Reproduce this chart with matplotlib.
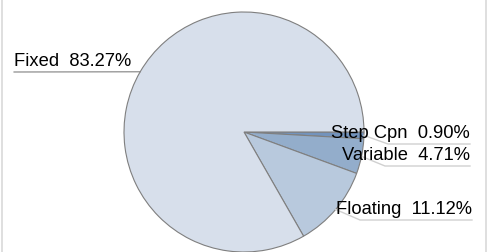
import matplotlib
matplotlib.use("Agg")
import matplotlib.pyplot as plt
import numpy as np
from matplotlib.lines import Line2D

plt.rcParams["font.family"] = ["Liberation Sans", "DejaVu Sans"]

# slices, clockwise from 3 o'clock
labels = ["Step Cpn", "Variable", "Floating", "Fixed"]
shares = [0.90, 4.71, 11.12, 83.27]
colors = ["#7393BC", "#93ADCB", "#B8C9DD", "#D7DFEB"]

W, H = 490, 252
cx, cy, R = 244, 132, 120  # pie centre / radius in pixels

fig = plt.figure(figsize=(W / 100, H / 100), dpi=100)
ax = fig.add_axes([0, 0, 1, 1])

wedges, _ = ax.pie(shares, colors=colors, startangle=0, counterclock=False,
                   radius=1, wedgeprops=dict(edgecolor="#7F7F7F", linewidth=0.8))
# pie() resets the limits, so set them afterwards
ax.set_aspect("auto")
ax.set_xlim(-cx / R, (W - cx) / R)
ax.set_ylim(-(H - cy) / R, cy / R)
ax.axis("off")


def px(x, y):
    return (x - cx) / R, (cy - y) / R


# label anchor (pixel): text end x, underline y, elbow x, align
label_pos = {
    "Step Cpn": (470, 144, 388, "right"),
    "Variable": (470, 166, 385, "right"),
    "Floating": (472, 220, 360, "right"),
    "Fixed": (14, 72, None, "left"),
}

for w, lab, val in zip(wedges, labels, shares):
    mid = np.deg2rad((w.theta1 + w.theta2) / 2)
    ex, ey = np.cos(mid), np.sin(mid)
    tx, uy, elbow, ha = label_pos[lab]
    text = f"{lab}  {val:.2f}%"
    if ha == "left":
        x0, y0 = px(tx, uy)
        ax.plot([x0, ex], [y0, ey], color="#808080", lw=0.8)
        ax.text(x0, y0 + 2 / R, text, ha="left", va="bottom", fontsize=13.2)
    else:
        x1, y1 = px(elbow, uy)
        x2, _ = px(tx, uy)
        ax.plot([ex, x1, x2], [ey, y1, y1], color="#D0D0D0", lw=1.0)
        ax.text(x2, y1 + 2 / R, text, ha="right", va="bottom", fontsize=13.2)

# light side borders
for xb in (1.5, 485.5):
    fig.add_artist(Line2D([xb / W, xb / W], [0, 1], color="#D9D9D9", lw=1.2,
                          transform=fig.transFigure))

fig.savefig("out.png", dpi=100)
